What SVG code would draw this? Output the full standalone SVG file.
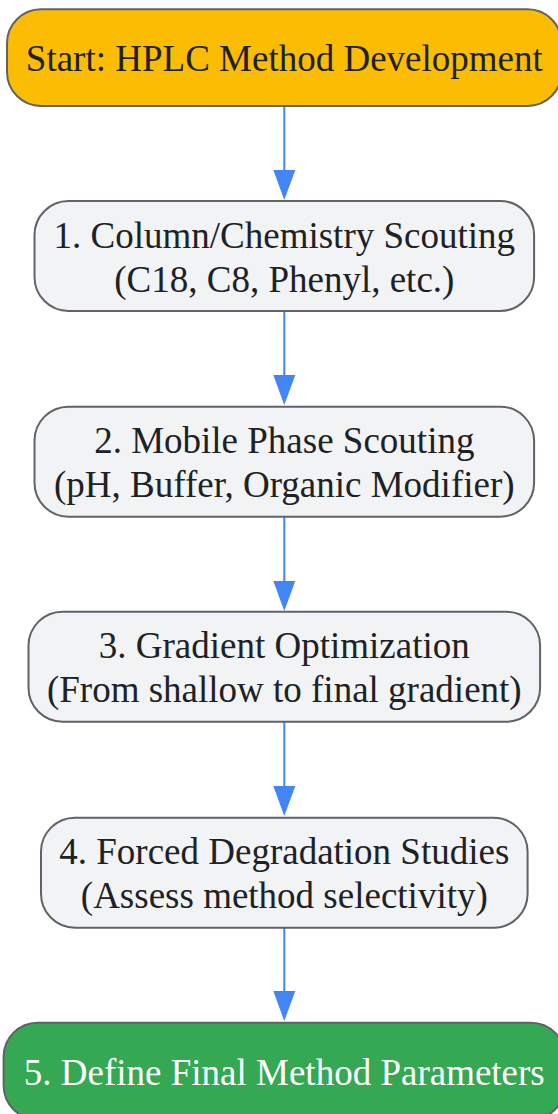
<svg xmlns="http://www.w3.org/2000/svg" width="558" height="1114" viewBox="0 0 558 1114">
<style>
.box{fill:#F1F3F4;stroke:#5F6368;stroke-width:2}
.start{fill:#FBBC04;stroke:#5F6368;stroke-width:2}
.end{fill:#34A853;stroke:#5F6368;stroke-width:2}
.lbl{font-family:"Liberation Serif","Times New Roman",serif;font-size:37px;fill:#202124;text-anchor:middle}
.wht{fill:#FFFFFF}
.edge{stroke:#4285F4;stroke-width:2;fill:none;marker-end:url(#arr)}
</style>
<defs>
<marker id="arr" markerUnits="userSpaceOnUse" markerWidth="31" markerHeight="24" refX="0" refY="12" orient="auto" viewBox="0 0 31 24" overflow="visible">
<path d="M0,1 L30,12 L0,23 Z" fill="#4285F4"/>
</marker>
</defs>
<g id="connectors">
<path class="edge" d="M284.3,106 V170"/>
<path class="edge" d="M284.3,311 V375"/>
<path class="edge" d="M284.3,517 V581"/>
<path class="edge" d="M284.3,722 V786"/>
<path class="edge" d="M284.3,928 V991"/>
</g>
<g id="start">
<rect class="start" x="7" y="9.3" width="554.6" height="96.7" rx="34" ry="34"/>
<text class="lbl" x="284.3" y="71">Start: HPLC Method Development</text>
</g>
<g id="step1">
<rect class="box" x="34.5" y="201" width="499.6" height="110" rx="34" ry="34"/>
<text class="lbl" x="284.3" y="248">1. Column/Chemistry Scouting</text>
<text class="lbl" x="284.3" y="292">(C18, C8, Phenyl, etc.)</text>
</g>
<g id="step2">
<rect class="box" x="34.5" y="406.7" width="499.6" height="110" rx="34" ry="34"/>
<text class="lbl" x="284.3" y="453">2. Mobile Phase Scouting</text>
<text class="lbl" x="284.3" y="497">(pH, Buffer, Organic Modifier)</text>
</g>
<g id="step3">
<rect class="box" x="28.5" y="611.7" width="511.6" height="110" rx="34" ry="34"/>
<text class="lbl" x="284.3" y="658">3. Gradient Optimization</text>
<text class="lbl" x="284.3" y="702">(From shallow to final gradient)</text>
</g>
<g id="step4">
<rect class="box" x="41" y="817.7" width="486.6" height="110" rx="34" ry="34"/>
<text class="lbl" x="284.3" y="864">4. Forced Degradation Studies</text>
<text class="lbl" x="284.3" y="908">(Assess method selectivity)</text>
</g>
<g id="step5">
<rect class="end" x="3.6" y="1022.7" width="561.4" height="96.7" rx="34" ry="34"/>
<text class="lbl wht" x="284.3" y="1085">5. Define Final Method Parameters</text>
</g>
</svg>
